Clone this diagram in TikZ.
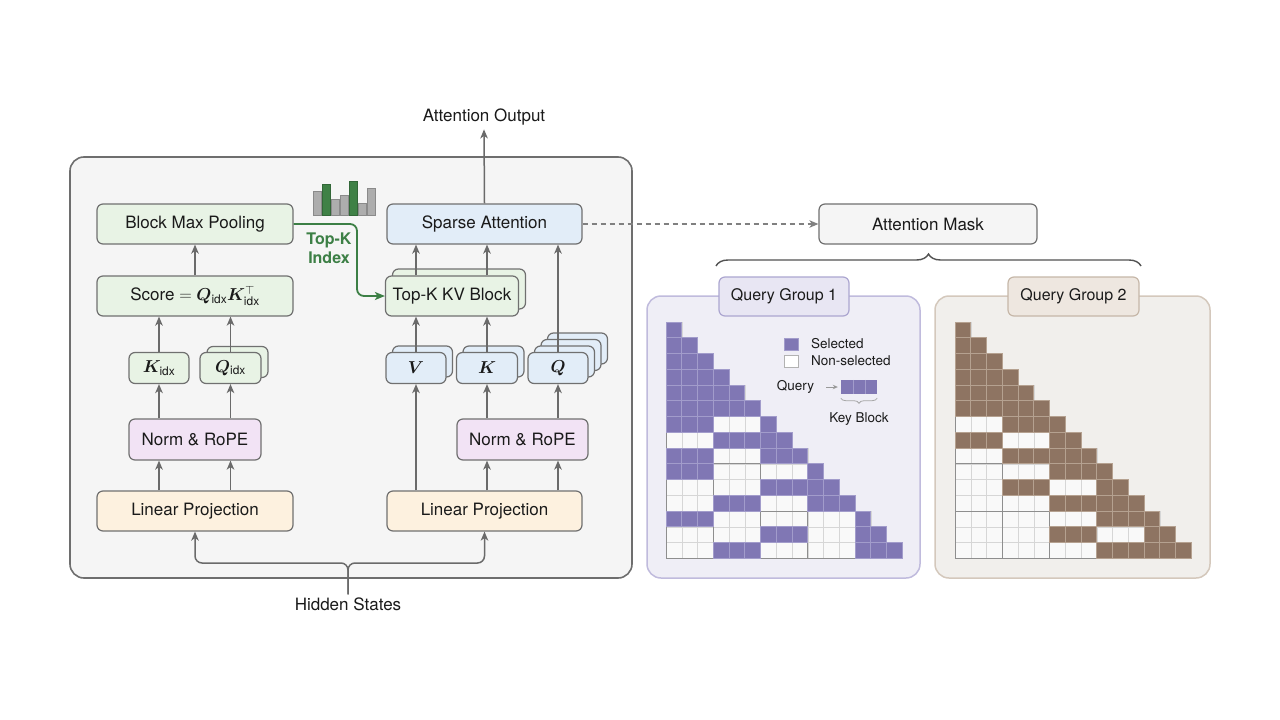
\documentclass[tikz,border=0pt]{standalone}
\usepackage{amsmath}
\usepackage{bm}
\usepackage{fontspec}
\setmainfont{TeX Gyre Heros}
\usetikzlibrary{arrows.meta,decorations.pathreplacing,calc}

\definecolor{panelfill}{HTML}{F5F5F5}
\definecolor{panelline}{HTML}{6E6E6E}
\definecolor{boxline}{HTML}{707070}
\definecolor{gfill}{HTML}{E8F3E5}
\definecolor{bfill}{HTML}{E2EDF8}
\definecolor{pfill}{HTML}{F2E3F5}
\definecolor{ofill}{HTML}{FDF1DF}
\definecolor{arrgray}{HTML}{6A6A6A}
\definecolor{topkgreen}{HTML}{3C7F45}
\definecolor{maskfill}{HTML}{F5F5F5}
\definecolor{purp}{HTML}{8077B4}
\definecolor{purpline}{HTML}{A29CCB}
\definecolor{brwn}{HTML}{8E7462}
\definecolor{brwnline}{HTML}{B5A190}
\definecolor{cellwhite}{HTML}{F9F9F9}
\definecolor{cellgrid}{HTML}{D6D6D6}
\definecolor{blockgrid}{HTML}{8E8E8E}
\definecolor{qgafill}{HTML}{EFEEF6}
\definecolor{qgaline}{HTML}{C0BBDD}
\definecolor{qgatfill}{HTML}{E8E6F3}
\definecolor{qgatline}{HTML}{ACA6D0}
\definecolor{qgbfill}{HTML}{F1EFEC}
\definecolor{qgbline}{HTML}{D4C8BC}
\definecolor{qgbtfill}{HTML}{EEE7E0}
\definecolor{qgbtline}{HTML}{C6B7A8}
\definecolor{histgray}{HTML}{ADADAD}
\definecolor{histgrayline}{HTML}{8A8A8A}
\definecolor{histgreen}{HTML}{3F8146}
\definecolor{txt}{HTML}{1A1A1A}

\def\cs{15.75}
\newcommand{\maskgrid}[5]{%
 \begin{scope}[shift={(#1,#2)}]
  \foreach \r in {1,...,15}{
    \foreach \c in {1,...,\r}{
      \draw[draw=cellgrid, fill=cellwhite, line width=0.5pt] ({(\c-1)*\cs},{(\r-1)*\cs}) rectangle ++(\cs,\cs);
    }}
  \foreach \R in {2,...,5}{
    \pgfmathtruncatemacro{\Rm}{\R-1}
    \foreach \B in {1,...,\Rm}{
      \draw[draw=blockgrid, line width=0.8pt] ({(\B-1)*3*\cs},{(\R-1)*3*\cs}) rectangle ++({3*\cs},{3*\cs});
    }}
  \foreach \r in {1,...,15}{
    \pgfmathtruncatemacro{\first}{3*int((\r+2)/3)-2}
    \foreach \c in {\first,...,\r}{
      \draw[draw=#4, fill=#3, line width=0.6pt] ({(\c-1)*\cs},{(\r-1)*\cs}) rectangle ++(\cs,\cs);
    }}
  \foreach \r/\b in {#5}{
    \foreach \k in {1,2,3}{
      \draw[draw=#4, fill=#3, line width=0.6pt] ({(3*(\b-1)+\k-1)*\cs},{(\r-1)*\cs}) rectangle ++(\cs,\cs);
    }}
 \end{scope}}

\begin{document}
\begin{tikzpicture}[x=1pt,y=-1pt,
  box/.style={draw=boxline, line width=1.2pt, rounded corners=6pt, inner sep=0pt, text=txt,
    font=\fontsize{17}{20}\selectfont},
  gbox/.style={box, fill=gfill},
  bbox/.style={box, fill=bfill},
  pbox/.style={box, fill=pfill},
  obox/.style={box, fill=ofill},
  wide/.style={minimum width=196, minimum height=40},
  small/.style={minimum width=60, minimum height=31},
  lbl/.style={inner sep=3pt, text=txt, font=\fontsize{17}{20}\selectfont},
  leg/.style={inner sep=0pt, text=txt, font=\fontsize{13.5}{16}\selectfont},
  arr/.style={draw=arrgray, line width=1.5pt, -{Stealth[length=9pt,width=7.5pt,inset=2.5pt]}},
  garr/.style={draw=topkgreen, line width=1.8pt, -{Stealth[length=10pt,width=8pt,inset=2.5pt]}},
  dasharr/.style={draw=arrgray!85, line width=1.4pt, dash pattern=on 5pt off 4pt, -{Stealth[length=9pt,width=7.5pt,inset=2.5pt]}},
  hbar/.style={draw=histgrayline, fill=histgray, line width=0.6pt},
  hgbar/.style={draw=histgreen!80!black, fill=histgreen, line width=0.6pt},
]
\useasboundingbox (0,0) rectangle (1280,720);
\fill[white] (0,0) rectangle (1280,720);

% ---------- left panel ----------
\node[draw=panelline, fill=panelfill, line width=1.6pt, rounded corners=14pt,
  minimum width=562, minimum height=421, inner sep=0pt] (panel) at (351,367.5) {};

% histogram
\draw[hbar]  (313,215) rectangle (321,191);
\draw[hgbar] (322,215) rectangle (330,184);
\draw[hbar]  (331,215) rectangle (339,199);
\draw[hbar]  (340,215) rectangle (348,195);
\draw[hgbar] (349,215) rectangle (357,181);
\draw[hbar]  (358,215) rectangle (366,203);
\draw[hbar]  (367,215) rectangle (375,188);

% left column
\node[gbox, wide] (bmp) at (195,224) {Block Max Pooling};
\node[gbox, wide] (score) at (195,296) {Score $=\bm{Q}_{\text{idx}}\bm{K}_{\text{idx}}^{\top}$};
\node[gbox, small] (kidx) at (159,368) {$\bm{K}_{\text{idx}}$};
\node[gbox, small, minimum width=61] (qidxs) at (237.5,362) {};
\node[gbox, small, minimum width=61] (qidx) at (230.5,368) {$\bm{Q}_{\text{idx}}$};
\node[pbox, minimum width=132, minimum height=41] (normL) at (195,439.5) {Norm \& RoPE};
\node[obox, wide] (linL) at (195,511) {Linear Projection};

% right column
\node[bbox, wide, minimum width=195] (sparse) at (484.5,224) {Sparse Attention};
\node[gbox, minimum width=133, minimum height=40] (topkvs) at (459,289) {};
\node[gbox, minimum width=133, minimum height=40] (topkv) at (452,296) {Top-K KV Block};
\node[bbox, small] (vs) at (422.5,361.5) {};
\node[bbox, small] (v) at (416,368) {$\bm{V}$};
\node[bbox, small, minimum width=61] (ks) at (493.5,361.5) {};
\node[bbox, small, minimum width=61] (k) at (487,368) {$\bm{K}$};
\node[bbox, small] (qs3) at (577.5,348.5) {};
\node[bbox, small] (qs2) at (571,355) {};
\node[bbox, small] (qs1) at (564.5,361.5) {};
\node[bbox, small] (q) at (558,368) {$\bm{Q}$};
\node[pbox, minimum width=131, minimum height=41] (normR) at (522.5,439.5) {Norm \& RoPE};
\node[obox, wide, minimum width=195] (linR) at (484.5,511) {Linear Projection};

\node[lbl, inner sep=4pt] (attout) at (484,117) {Attention Output};
\node[lbl] (hs) at (348,604) {Hidden States};
\coordinate (hsj) at (348,563);
\coordinate (gcorner) at (357,224);

% arrows left
\draw[arr] (linL.north -| kidx.south) -- (normL.south -| kidx.south);
\draw[arr] (linL.north -| qidx.south) -- (normL.south -| qidx.south);
\draw[arr] (normL.north -| kidx.south) -- (kidx.south);
\draw[arr] (normL.north -| qidx.south) -- (qidx.south);
\draw[arr] (kidx.north) -- (score.south -| kidx.north);
\draw[arr] (qidx.north) -- (score.south -| qidx.north);
\draw[arr] (score.north) -- (bmp.south);

% arrows right
\draw[arr] (linR.north -| v.south) -- (v.south);
\draw[arr] (linR.north -| k.south) -- (normR.south -| k.south);
\draw[arr] (linR.north -| q.south) -- (normR.south -| q.south);
\draw[arr] (normR.north -| k.south) -- (k.south);
\draw[arr] (normR.north -| q.south) -- (q.south);
\draw[arr] (v.north) -- (topkv.south -| v.north);
\draw[arr] (k.north) -- (topkv.south -| k.north);
\draw[arr] (topkv.north -| v.north) -- (sparse.south -| v.north);
\draw[arr] (topkv.north -| k.north) -- (sparse.south -| k.north);
\draw[arr] (q.north) -- (sparse.south -| q.north);
\draw[arr] (sparse.north) -- (attout.south);

% hidden states
\draw[arr, rounded corners=7pt] (hs.north) -- (hsj) -| (linL.south);
\draw[arr, rounded corners=7pt] (hs.north) -- (hsj) -| (linR.south);

% top-k index
\draw[garr, rounded corners=7pt] (bmp.east) -- (gcorner) |- (topkv.west);
\node[text=topkgreen, font=\bfseries\fontsize{16}{19}\selectfont, align=center, inner sep=0pt] (topkidx) at (329,248) {Top-K\\Index};

% ---------- attention mask ----------
\node[box, fill=maskfill, minimum width=218, minimum height=40] (mask) at (928,224) {Attention Mask};
\draw[dasharr] (sparse.east) -- (mask.west);
\draw[decorate, decoration={brace, amplitude=12pt}, draw=black!68, line width=1.4pt] (716,266) -- (1141,266);

% query group panels
\node[draw=qgaline, fill=qgafill, line width=1.5pt, rounded corners=14pt,
  minimum width=273, minimum height=282, inner sep=0pt] (qga) at (783.5,437) {};
\node[draw=qgbline, fill=qgbfill, line width=1.5pt, rounded corners=14pt,
  minimum width=275, minimum height=282, inner sep=0pt] (qgb) at (1072.5,437) {};
\node[box, draw=qgatline, fill=qgatfill, minimum width=130, minimum height=39,
  font=\fontsize{16}{19}\selectfont] (qgat) at (784,296.5) {Query Group 1};
\node[box, draw=qgbtline, fill=qgbtfill, minimum width=131, minimum height=39,
  font=\fontsize{16}{19}\selectfont] (qgbt) at (1073.5,296.5) {Query Group 2};

% masks
\maskgrid{666}{322}{purp}{purpline}{4/1,5/1,6/1,7/1,8/2,9/1,10/1,11/3,12/2,13/1,14/3,15/2}
\maskgrid{955}{322}{brwn}{brwnline}{4/1,5/1,6/1,7/2,8/1,9/2,10/3,11/2,12/3,13/4,14/3,15/4}

% legend
\node[draw=purpline, fill=purp, minimum width=14, minimum height=12, inner sep=0pt] (lsel) at (791,344) {};
\node[leg, anchor=west] (lselt) at (811,344) {Selected};
\node[draw=black!30, fill=white, minimum width=14, minimum height=12, inner sep=0pt] (lnon) at (791,361) {};
\node[leg, anchor=west] (lnont) at (811,361) {Non-selected};
\node[leg] (lq) at (795.5,387) {Query};
\node[fill=purp, minimum width=36, minimum height=14, inner sep=0pt] (lkb) at (859,387) {};
\draw[purpline, line width=0.5pt] ($(lkb.north west)!1/3!(lkb.north east)$) -- ($(lkb.south west)!1/3!(lkb.south east)$);
\draw[purpline, line width=0.5pt] ($(lkb.north west)!2/3!(lkb.north east)$) -- ($(lkb.south west)!2/3!(lkb.south east)$);
\draw[draw=black!40, line width=0.9pt, shorten <=12pt, shorten >=3pt, -{Stealth[length=5pt,width=4.5pt]}] (lq.east) -- (lkb.west);
\draw[decorate, decoration={brace, amplitude=5pt}, draw=black!35, line width=0.8pt]
  ($(lkb.south east)+(0,4)$) -- ($(lkb.south west)+(0,4)$);
\node[leg] (lkbt) at (859,419) {Key Block};

\end{tikzpicture}
\end{document}
